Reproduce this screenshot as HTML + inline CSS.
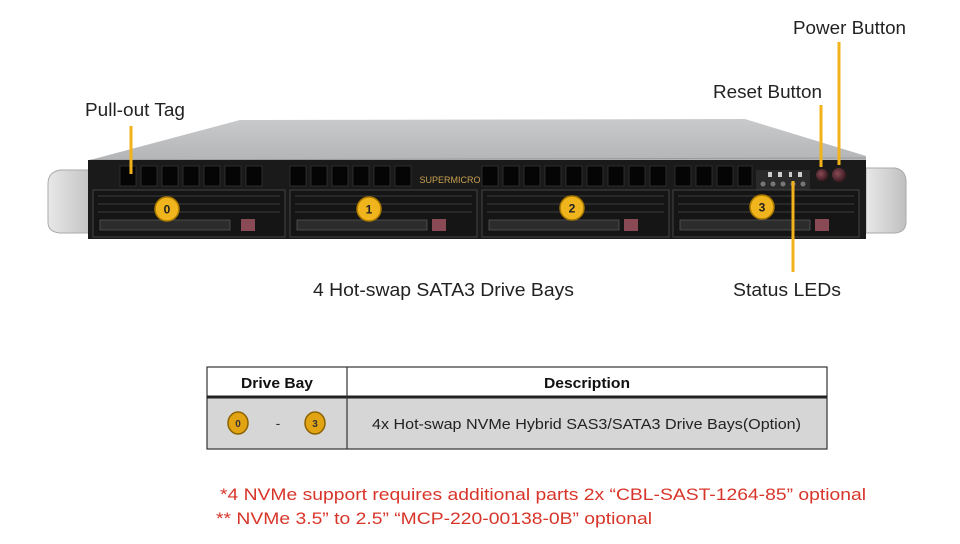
<!DOCTYPE html>
<html><head><meta charset="utf-8"><style>
html,body{margin:0;padding:0;background:#fff;width:960px;height:544px;overflow:hidden}
svg{display:block}
text{font-family:"Liberation Sans",Arial,sans-serif}
</style></head><body>
<svg width="960" height="544" viewBox="0 0 960 544" xmlns="http://www.w3.org/2000/svg">
<defs>
<linearGradient id="top" x1="0" y1="0" x2="0" y2="1"><stop offset="0" stop-color="#c9cacc"/><stop offset="1" stop-color="#b3b4b6"/></linearGradient>
<linearGradient id="ear" x1="0" y1="0" x2="1" y2="0"><stop offset="0" stop-color="#e8e8e8"/><stop offset="1" stop-color="#bfbfbf"/></linearGradient>
<radialGradient id="btn" cx="0.4" cy="0.4" r="0.6"><stop offset="0" stop-color="#8a4a55"/><stop offset="1" stop-color="#3a1a20"/></radialGradient>
</defs>
<!-- top chassis -->
<polygon points="90,160 240,120 745,119 866,156 866,162 90,162" fill="url(#top)"/>
<line x1="90" y1="160" x2="866" y2="158" stroke="#9a9a9a" stroke-width="1"/>
<!-- ears -->
<path d="M95,170 L60,170 Q48,172 48,184 L48,222 Q48,232 60,233 L95,233 Z" fill="url(#ear)" stroke="#aaa"/>
<path d="M866,168 L895,168 Q906,170 906,182 L906,222 Q906,232 895,233 L866,233 Z" fill="url(#ear)" stroke="#aaa"/>
<!-- front panel -->
<rect x="88" y="160" width="778" height="79" fill="#1a1a1a"/>
<!-- vent row -->
<g fill="#050505" stroke="#333" stroke-width="0.8">
<rect x="120" y="166" width="16" height="20"/><rect x="141" y="166" width="16" height="20"/><rect x="162" y="166" width="16" height="20"/><rect x="183" y="166" width="16" height="20"/><rect x="204" y="166" width="16" height="20"/><rect x="225" y="166" width="16" height="20"/><rect x="246" y="166" width="16" height="20"/>
<rect x="290" y="166" width="16" height="20"/><rect x="311" y="166" width="16" height="20"/><rect x="332" y="166" width="16" height="20"/><rect x="353" y="166" width="16" height="20"/><rect x="374" y="166" width="16" height="20"/><rect x="395" y="166" width="16" height="20"/>
<rect x="482" y="166" width="16" height="20"/><rect x="503" y="166" width="16" height="20"/><rect x="524" y="166" width="16" height="20"/><rect x="545" y="166" width="16" height="20"/><rect x="566" y="166" width="16" height="20"/><rect x="587" y="166" width="16" height="20"/><rect x="608" y="166" width="16" height="20"/><rect x="629" y="166" width="16" height="20"/><rect x="650" y="166" width="16" height="20"/>
<rect x="675" y="166" width="16" height="20"/><rect x="696" y="166" width="16" height="20"/><rect x="717" y="166" width="16" height="20"/><rect x="738" y="166" width="14" height="20"/>
</g>
<text x="450" y="183" font-size="9" fill="#c8a050" text-anchor="middle" font-family="Liberation Serif,serif">SUPERMICRO</text>
<!-- LED panel -->
<rect x="756" y="170" width="54" height="20" fill="#2a2a2a"/>
<g fill="#777"><circle cx="763" cy="184" r="2.5"/><circle cx="773" cy="184" r="2.5"/><circle cx="783" cy="184" r="2.5"/><circle cx="793" cy="184" r="2.5"/><circle cx="803" cy="184" r="2.5"/></g>
<g fill="#ccc"><rect x="768" y="172" width="4" height="5"/><rect x="778" y="172" width="4" height="5"/><rect x="789" y="172" width="3" height="5"/><rect x="798" y="172" width="4" height="5"/></g>
<circle cx="822" cy="175" r="6" fill="url(#btn)"/><circle cx="839" cy="175" r="7" fill="url(#btn)"/>
<!-- bays -->
<g>
<rect x="93" y="190" width="192" height="47" fill="#151515" stroke="#444"/>
<rect x="290" y="190" width="187" height="47" fill="#151515" stroke="#444"/>
<rect x="482" y="190" width="187" height="47" fill="#151515" stroke="#444"/>
<rect x="673" y="190" width="186" height="47" fill="#151515" stroke="#444"/>
</g>
<g fill="none" stroke="#3c3c3c" stroke-width="1">
<path d="M98,196 H280 M98,204 H280 M98,212 H280 M295,196 H472 M295,204 H472 M295,212 H472 M487,196 H664 M487,204 H664 M487,212 H664 M678,196 H854 M678,204 H854 M678,212 H854"/>
</g>
<g fill="#2c2c2c" stroke="#555" stroke-width="0.8">
<rect x="100" y="220" width="130" height="10"/><rect x="297" y="220" width="130" height="10"/><rect x="489" y="220" width="130" height="10"/><rect x="680" y="220" width="130" height="10"/>
</g>
<g fill="#8a4a55"><rect x="241" y="219" width="14" height="12"/><rect x="432" y="219" width="14" height="12"/><rect x="624" y="219" width="14" height="12"/><rect x="815" y="219" width="14" height="12"/></g>
<!-- numbered circles -->
<g font-size="12" font-weight="bold" text-anchor="middle" fill="#222">
<circle cx="167" cy="209" r="12" fill="#f0b41c" stroke="#a87800" stroke-width="1.5"/><text x="167" y="213.5">0</text>
<circle cx="369" cy="209" r="12" fill="#f0b41c" stroke="#a87800" stroke-width="1.5"/><text x="369" y="213.5">1</text>
<circle cx="572" cy="208" r="12" fill="#f0b41c" stroke="#a87800" stroke-width="1.5"/><text x="572" y="212.5">2</text>
<circle cx="762" cy="207" r="12" fill="#f0b41c" stroke="#a87800" stroke-width="1.5"/><text x="762" y="211.5">3</text>
</g>
<!-- leader lines -->
<g stroke="#f2b21a" stroke-width="3">
<line x1="131" y1="126" x2="131" y2="174"/>
<line x1="821" y1="105" x2="821" y2="167"/>
<line x1="839" y1="42" x2="839" y2="165"/>
<line x1="793" y1="181" x2="793" y2="272"/>
</g>
<!-- labels -->
<g font-size="18" fill="#222">
<text x="85" y="116" textLength="100" lengthAdjust="spacingAndGlyphs">Pull-out Tag</text>
<text x="793" y="34" textLength="113" lengthAdjust="spacingAndGlyphs">Power Button</text>
<text x="713" y="98" textLength="109" lengthAdjust="spacingAndGlyphs">Reset Button</text>
<text x="313" y="296" textLength="261" lengthAdjust="spacingAndGlyphs">4 Hot-swap SATA3 Drive Bays</text>
<text x="733" y="296" textLength="108" lengthAdjust="spacingAndGlyphs">Status LEDs</text>
</g>
<!-- table -->
<rect x="207" y="398" width="620" height="51" fill="#d6d6d6"/>
<rect x="207" y="367" width="620" height="82" fill="none" stroke="#333" stroke-width="1.2"/>
<line x1="207" y1="397" x2="827" y2="397" stroke="#222" stroke-width="3"/>
<line x1="347" y1="367" x2="347" y2="449" stroke="#333" stroke-width="1.2"/>
<g font-size="15" font-weight="bold" fill="#111" text-anchor="middle">
<text x="277" y="388" textLength="72" lengthAdjust="spacingAndGlyphs">Drive Bay</text>
<text x="587" y="388" textLength="86" lengthAdjust="spacingAndGlyphs">Description</text>
</g>
<g font-size="10" font-weight="bold" text-anchor="middle" fill="#333">
<ellipse cx="238" cy="423" rx="10" ry="11" fill="#e3a414" stroke="#8a6200" stroke-width="1.5"/><text x="238" y="427">0</text>
<ellipse cx="315" cy="423" rx="10" ry="11" fill="#e3a414" stroke="#8a6200" stroke-width="1.5"/><text x="315" y="427">3</text>
</g>
<text x="278" y="428" font-size="14" fill="#333" text-anchor="middle">-</text>
<text x="372" y="429" font-size="15" fill="#222" textLength="429" lengthAdjust="spacingAndGlyphs">4x Hot-swap NVMe Hybrid SAS3/SATA3 Drive  Bays(Option)</text>
<!-- notes -->
<g font-size="17" fill="#d8352a">
<text x="220" y="500" textLength="646" lengthAdjust="spacingAndGlyphs">*4 NVMe support requires additional parts 2x “CBL-SAST-1264-85” optional</text>
<text x="216" y="524" textLength="436" lengthAdjust="spacingAndGlyphs">** NVMe 3.5” to 2.5” “MCP-220-00138-0B” optional</text>
</g>
</svg>
</body></html>
